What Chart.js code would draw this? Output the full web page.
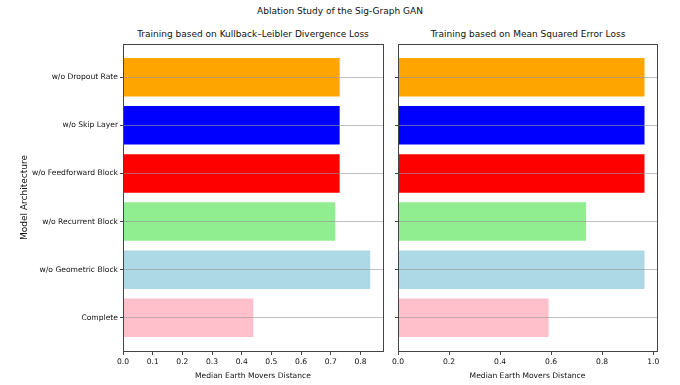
<!DOCTYPE html>
<html>
<head>
<meta charset="utf-8">
<script src="https://cdn.jsdelivr.net/npm/chart.js@4"></script>
<style>
  body { margin: 0; background: #fff; font-family: "DejaVu Sans", sans-serif; }
  #wrap { position: relative; width: 680px; height: 385px; overflow: hidden; }
  canvas { position: absolute; top: 0; }
  .titulo { position: absolute; font-size: 9px; color: #111; white-space: nowrap; transform: translate(-50%, -50%); }
</style>
</head>
<body>
<div id="wrap">
  <div class="titulo" style="left:340px; top:10.8px;">Ablation Study of the Sig-Graph GAN</div>
  <div class="titulo" style="left:253px; top:33.6px;">Training based on Kullback–Leibler Divergence Loss</div>
  <div class="titulo" style="left:528px; top:33.6px;">Training based on Mean Squared Error Loss</div>
  <canvas id="grafico-kl" width="390" height="385" style="left:0px"></canvas>
  <canvas id="grafico-mse" width="290" height="385" style="left:390px"></canvas>
</div>
<script>
// categorias de baixo para cima (como no matplotlib)
var arquiteturas = ['Complete', 'w/o Geometric Block', 'w/o Recurrent Block', 'w/o Feedforward Block', 'w/o Skip Layer', 'w/o Dropout Rate'];
var cores = ['#FFC0CB', '#ADD8E6', '#90EE90', '#FF0000', '#0000FF', '#FFA500'];

var valoresKL = [0.439, 0.833, 0.715, 0.730, 0.730, 0.730];
var valoresMSE = [0.590, 0.966, 0.737, 0.966, 0.966, 0.966];

var ticksKL = [0, 0.1, 0.2, 0.3, 0.4, 0.5, 0.6, 0.7, 0.8];
var ticksMSE = [0, 0.2, 0.4, 0.6, 0.8, 1.0];

var fonte = { family: 'DejaVu Sans', size: 7.6 };
var fonteTitulo = { family: 'DejaVu Sans', size: 9 };

// moldura dos quatro lados
var moldura = {
    id: 'moldura',
    afterDraw: function (chart) {
        var a = chart.chartArea;
        var ctx = chart.ctx;
        ctx.save();
        ctx.strokeStyle = '#444';
        ctx.lineWidth = 1;
        ctx.strokeRect(Math.round(a.left) + 0.5, Math.round(a.top) + 0.5, Math.round(a.right - a.left), Math.round(a.bottom - a.top));
        ctx.restore();
    }
};

function criarGrafico(id, valores, xTicks, xMax, larguraY, direita, mostrarRotulos) {
    var pontos = valores.map(function (v, i) { return { x: v, y: i }; });
    return new Chart(document.getElementById(id), {
        type: 'bar',
        data: {
            datasets: [{
                data: pontos,
                backgroundColor: cores,
                borderWidth: 0,
                barPercentage: 0.8,
                categoryPercentage: 1
            }]
        },
        options: {
            indexAxis: 'y',
            responsive: false,
            animation: false,
            layout: { padding: { top: 44, right: direita, bottom: 0, left: 0 } },
            scales: {
                x: {
                    type: 'linear',
                    min: 0,
                    max: xMax,
                    offset: false,
                    border: { display: false },
                    afterBuildTicks: function (s) { s.ticks = xTicks.map(function (v) { return { value: v }; }); },
                    afterFit: function (s) { s.height = 34; },
                    grid: { drawOnChartArea: false, drawTicks: true, tickLength: 4, color: '#444', offset: false },
                    ticks: {
                        font: fonte, color: '#111', padding: 2, maxRotation: 0,
                        callback: function (v) { return v.toFixed(1); }
                    },
                    title: { display: true, text: 'Median Earth Movers Distance', font: fonte, color: '#111', padding: { top: 0, bottom: 4 } }
                },
                y: {
                    type: 'linear',
                    min: -0.69,
                    max: 5.69,
                    offset: false,
                    border: { display: false },
                    afterBuildTicks: function (s) { s.ticks = arquiteturas.map(function (n, i) { return { value: i }; }); },
                    afterFit: function (s) { s.width = larguraY; },
                    grid: {
                        z: 1, // linhas por cima das barras
                        offset: false,
                        drawTicks: true, tickLength: 3,
                        color: 'rgba(150,150,150,0.6)',
                        tickColor: '#444'
                    },
                    ticks: {
                        font: fonte, color: '#111', padding: 2,
                        callback: function (v) { return mostrarRotulos ? arquiteturas[v] : ''; }
                    },
                    title: { display: mostrarRotulos, text: 'Model Architecture', font: fonteTitulo, color: '#111', padding: { top: 19.6, bottom: 0 } }
                }
            },
            plugins: {
                legend: { display: false },
                title: { display: false },
                tooltip: { enabled: false }
            }
        },
        plugins: [moldura]
    });
}

criarGrafico('grafico-kl', valoresKL, ticksKL, 0.876, 123, 7, true);
criarGrafico('grafico-mse', valoresMSE, ticksMSE, 1.015, 7, 23, false);
</script>
</body>
</html>
